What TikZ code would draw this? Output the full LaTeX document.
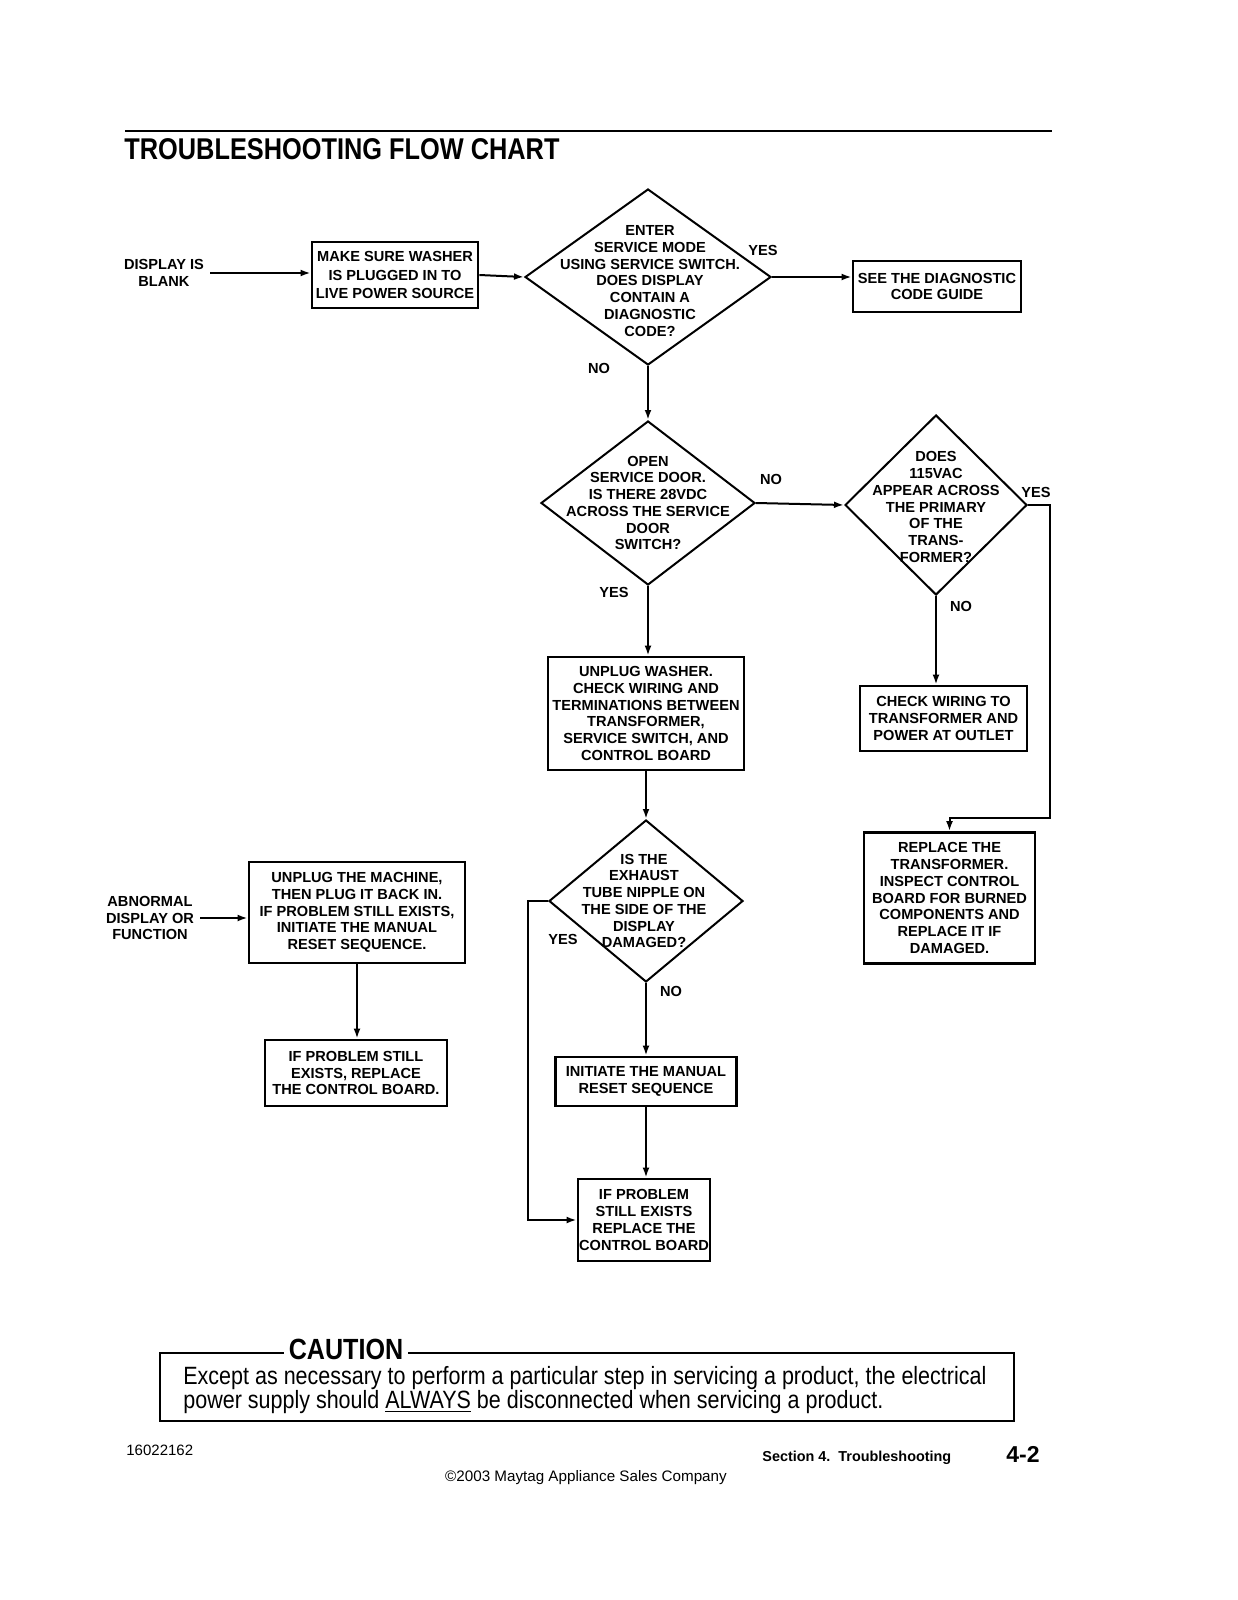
\documentclass[tikz,border=0pt]{standalone}
\usepackage{fontspec}
\setmainfont{Liberation Sans}
\newfontfamily\hv{Liberation Sans}
\newfontfamily\hvt{Liberation Sans}[FakeStretch=0.845]
\newfontfamily\hvn{Liberation Sans}[FakeStretch=0.86]
\usetikzlibrary{shapes.geometric,arrows.meta}
\newcommand\bxf{\hv\bfseries\fontsize{7.3pt}{8.35pt}\selectfont}
\tikzset{
  box/.style={draw, line width=1.3pt, inner sep=0pt, align=center, font=\bxf},
  dia/.style={draw, diamond, line width=1pt, inner sep=0pt},
  dtxt/.style={inner sep=0pt, align=center, font=\bxf},
  lbl/.style={inner sep=0pt, align=center, font=\bxf},
  arr/.style={line width=1pt, -{Latex[length=5pt,width=3.4pt]}},
  ln/.style={line width=1pt},
}
\begin{document}
\begin{tikzpicture}[x=0.5pt,y=-0.5pt]
\fill[white] (0,0) rectangle (1237,1600);
\useasboundingbox (0,0) rectangle (1237,1600);

% header
\draw[line width=1pt] (125,131) -- (1052,131);
\node[anchor=base west, inner sep=0pt, font=\hvt\bfseries\fontsize{15pt}{17pt}\selectfont] (title) at (124,159) {TROUBLESHOOTING FLOW CHART};

% start 1
\node[lbl] (s1) at (164,273) {DISPLAY IS\\BLANK};
\node[box, minimum width=83pt, minimum height=33pt, font=\hv\bfseries\fontsize{7.3pt}{9.15pt}\selectfont] (b1) at (395,275) {MAKE SURE WASHER\\IS PLUGGED IN TO\\LIVE POWER SOURCE};

% diamond 1
\node[dia, minimum width=123pt, minimum height=88pt] (d1) at (648,277) {};
\node[dtxt] (d1t) at (650,281) {ENTER\\SERVICE MODE\\USING SERVICE SWITCH.\\DOES DISPLAY\\CONTAIN A\\DIAGNOSTIC\\CODE?};
\node[lbl] (y1) at (763,250) {YES};
\node[lbl] (n1) at (599,368) {NO};
\node[box, minimum width=84pt, minimum height=25.5pt] (b2) at (937,286.5) {SEE THE DIAGNOSTIC\\CODE GUIDE};

% diamond 2
\node[dia, minimum width=107pt, minimum height=82pt] (d2) at (648,503) {};
\node[dtxt] (d2t) at (648,503) {OPEN\\SERVICE DOOR.\\IS THERE 28VDC\\ACROSS THE SERVICE\\DOOR\\SWITCH?};
\node[lbl] (n2) at (771,479) {NO};
\node[lbl] (y2) at (614,592) {YES};

% diamond 3
\node[dia, minimum width=91pt, minimum height=90pt] (d3) at (936,505) {};
\node[dtxt] (d3t) at (936,507) {DOES\\115VAC\\APPEAR ACROSS\\THE PRIMARY\\OF THE\\TRANS-\\FORMER?};
\node[lbl] (y3) at (1036,492) {YES};
\node[lbl] (n3) at (961,606) {NO};

% boxes middle
\node[box, minimum width=98pt, minimum height=56.5pt] (b3) at (646,713.5) {UNPLUG WASHER.\\CHECK WIRING AND\\TERMINATIONS BETWEEN\\TRANSFORMER,\\SERVICE SWITCH, AND\\CONTROL BOARD};
\node[box, minimum width=83.5pt, minimum height=32.5pt] (b4) at (943.5,718.5) {CHECK WIRING TO\\TRANSFORMER AND\\POWER AT OUTLET};
\node[box, minimum width=85.5pt, minimum height=65.5pt] (b5) at (949.5,898) {REPLACE THE\\TRANSFORMER.\\INSPECT CONTROL\\BOARD FOR BURNED\\COMPONENTS AND\\REPLACE IT IF\\DAMAGED.};

% diamond 4
\node[dia, minimum width=97pt, minimum height=81pt] (d4) at (646,901) {};
\node[dtxt] (d4t) at (644,901) {IS THE\\EXHAUST\\TUBE NIPPLE ON\\THE SIDE OF THE\\DISPLAY\\DAMAGED?};
\node[lbl] (y4) at (563,939) {YES};
\node[lbl] (n4) at (671,991) {NO};
\node[box, minimum width=90.5pt, minimum height=24.5pt] (b9) at (646,1081.5) {INITIATE THE MANUAL\\RESET SEQUENCE};
\node[box, minimum width=66pt, minimum height=41pt] (b10) at (644,1220) {IF PROBLEM\\STILL EXISTS\\REPLACE THE\\CONTROL BOARD};

% start 2
\node[lbl] (s2) at (150,918) {ABNORMAL\\DISPLAY OR\\FUNCTION};
\node[box, minimum width=108pt, minimum height=50.5pt] (b7) at (357,912.5) {UNPLUG THE MACHINE,\\THEN PLUG IT BACK IN.\\IF PROBLEM STILL EXISTS,\\INITIATE THE MANUAL\\RESET SEQUENCE.};
\node[box, minimum width=91pt, minimum height=33pt] (b8) at (356,1073) {IF PROBLEM STILL\\EXISTS, REPLACE\\THE CONTROL BOARD.};

% helper coordinates
\coordinate (c1) at (1050,818);
\coordinate (c2) at (528,1220);

% connectors
\draw[arr] ([xshift=3pt]s1.east) -- (s1.east -| b1.west);
\draw[arr] (b1.east) -- (d1.west);
\draw[arr] (d1.east) -- (d1.east -| b2.west);
\draw[arr] (d1.south) -- (d2.north);
\draw[arr] (d2.east) -- (d3.west);
\draw[arr] (d2.south) -- (d2.south |- b3.north);
\draw[arr] (d3.south) -- (d3.south |- b4.north);
\draw[arr] (d3.east) -| (c1) -| (b5.north);
\draw[arr] (b3.south) -- (b3.south |- d4.north);
\draw[arr] (d4.south) -- (b9.north);
\draw[arr] (b9.south) -- (b9.south |- b10.north);
\draw[arr] (d4.west) -| (c2) -- (b10.west);
\draw[arr] ([xshift=3pt]s2.east) -- (s2.east -| b7.west);
\draw[arr] (b7.south) -- (b7.south |- b8.north);

% caution
\node[draw, line width=1pt, minimum width=427pt, minimum height=34pt, inner sep=0pt] (cbox) at (587,1387) {};
\node[fill=white, inner xsep=2.5pt, inner ysep=0pt, font=\hvn\bfseries\fontsize{14.6pt}{15pt}\selectfont] (ct) at (346,1349) {CAUTION};
\node[anchor=base west, inner sep=0pt, font=\hvn\fontsize{12.5pt}{13pt}\selectfont] (cl1) at (183,1384) {Except as necessary to perform a particular step in servicing a product, the electrical};
\node[anchor=base west, inner sep=0pt, font=\hvn\fontsize{12.5pt}{13pt}\selectfont] (cl2) at (183,1408) {power supply should \underline{ALWAYS} be disconnected when servicing a product.};

% footer
\node[anchor=base west, inner sep=0pt, font=\hv\fontsize{7.5pt}{9pt}\selectfont] (docno) at (126,1455) {16022162};
\node[anchor=base west, inner sep=0pt, font=\hv\bfseries\fontsize{7.2pt}{8pt}\selectfont] (sect) at (762,1461) {Section 4.\ \ Troubleshooting};
\node[anchor=base west, inner sep=0pt, font=\hv\bfseries\fontsize{11.5pt}{12pt}\selectfont] (pg) at (1006,1462) {4-2};
\node[anchor=base, inner sep=0pt, font=\hv\fontsize{7.6pt}{9pt}\selectfont] (copy) at (586,1481) {©2003 Maytag Appliance Sales Company};
\end{tikzpicture}
\end{document}
